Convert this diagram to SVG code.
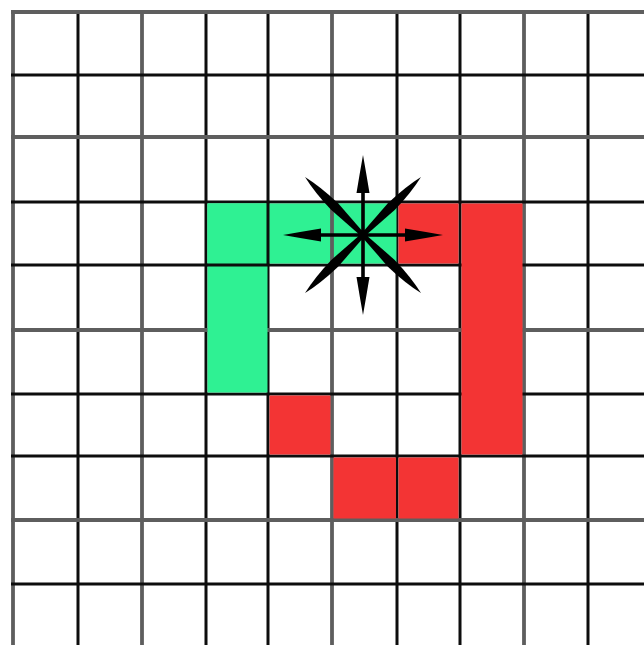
<svg xmlns="http://www.w3.org/2000/svg" width="644" height="645" viewBox="0 0 644 645">
  <style>
    .bk { stroke: #0d0d0d; stroke-width: 3; }
    .gy { stroke: #5e5e5e; stroke-width: 3.8; }
    .green { fill: #2ff193; }
    .red { fill: #f33434; }
    .star { fill: #000; }
  </style>
  <defs>
    <path id="arrowAxis" d="M -1.8 0 L -1.8 -42 L -6.5 -42 Q -3.2 -62 0 -80 Q 3.2 -62 6.5 -42 L 1.8 -42 L 1.8 0 Z"/>
    <path id="arrowDiag" d="M -2 0 L -4.8 -40 Q -4.2 -64 0 -82 Q 4.2 -64 4.8 -40 L 2 0 Z"/>
  </defs>
  <rect x="0" y="0" width="644" height="645" fill="#ffffff"/>
  <g id="grid">
    <line class="gy" x1="13" y1="10" x2="13" y2="645"/>
    <line class="bk" x1="78" y1="10" x2="78" y2="645"/>
    <line class="gy" x1="142" y1="10" x2="142" y2="645"/>
    <line class="bk" x1="206" y1="10" x2="206" y2="645"/>
    <line class="bk" x1="268" y1="10" x2="268" y2="645"/>
    <line class="gy" x1="332" y1="10" x2="332" y2="645"/>
    <line class="bk" x1="397" y1="10" x2="397" y2="645"/>
    <line class="bk" x1="460" y1="10" x2="460" y2="645"/>
    <line class="gy" x1="524" y1="10" x2="524" y2="645"/>
    <line class="bk" x1="588" y1="10" x2="588" y2="645"/>
    <line class="gy" x1="11" y1="12" x2="644" y2="12"/>
    <line class="bk" x1="11" y1="75" x2="644" y2="75"/>
    <line class="gy" x1="11" y1="137" x2="644" y2="137"/>
    <line class="bk" x1="11" y1="202" x2="644" y2="202"/>
    <line class="bk" x1="11" y1="265" x2="644" y2="265"/>
    <line class="gy" x1="11" y1="330" x2="644" y2="330"/>
    <line class="bk" x1="11" y1="394" x2="644" y2="394"/>
    <line class="bk" x1="11" y1="456" x2="644" y2="456"/>
    <line class="gy" x1="11" y1="520" x2="644" y2="520"/>
    <line class="bk" x1="11" y1="584" x2="644" y2="584"/>
  </g>
  <g id="green-path">
    <rect class="green" x="207.5" y="203.5" width="60" height="189"/>
    <rect class="green" x="207.5" y="203.5" width="189" height="60"/>
    <line class="bk" x1="206" y1="265" x2="268" y2="265"/>
    <line class="bk" x1="268" y1="202" x2="268" y2="265"/>
    <line class="gy" x1="332" y1="202" x2="332" y2="265"/>
  </g>
  <g id="red-path">
    <rect class="red" x="398.5" y="203.5" width="60" height="60"/>
    <rect class="red" x="461.5" y="203.5" width="61" height="251"/>
    <rect class="red" x="269.5" y="395.5" width="61" height="59"/>
    <rect class="red" x="333.5" y="457.5" width="62.5" height="61"/>
    <rect class="red" x="398.5" y="457.5" width="60" height="61"/>
  </g>
  <g id="star" class="star" transform="translate(363 235)">
    <use href="#arrowAxis"/>
    <use href="#arrowAxis" transform="rotate(90)"/>
    <use href="#arrowAxis" transform="rotate(180)"/>
    <use href="#arrowAxis" transform="rotate(270)"/>
    <use href="#arrowDiag" transform="rotate(45)"/>
    <use href="#arrowDiag" transform="rotate(135)"/>
    <use href="#arrowDiag" transform="rotate(225)"/>
    <use href="#arrowDiag" transform="rotate(315)"/>
    <circle cx="0" cy="0" r="5"/>
  </g>
</svg>
